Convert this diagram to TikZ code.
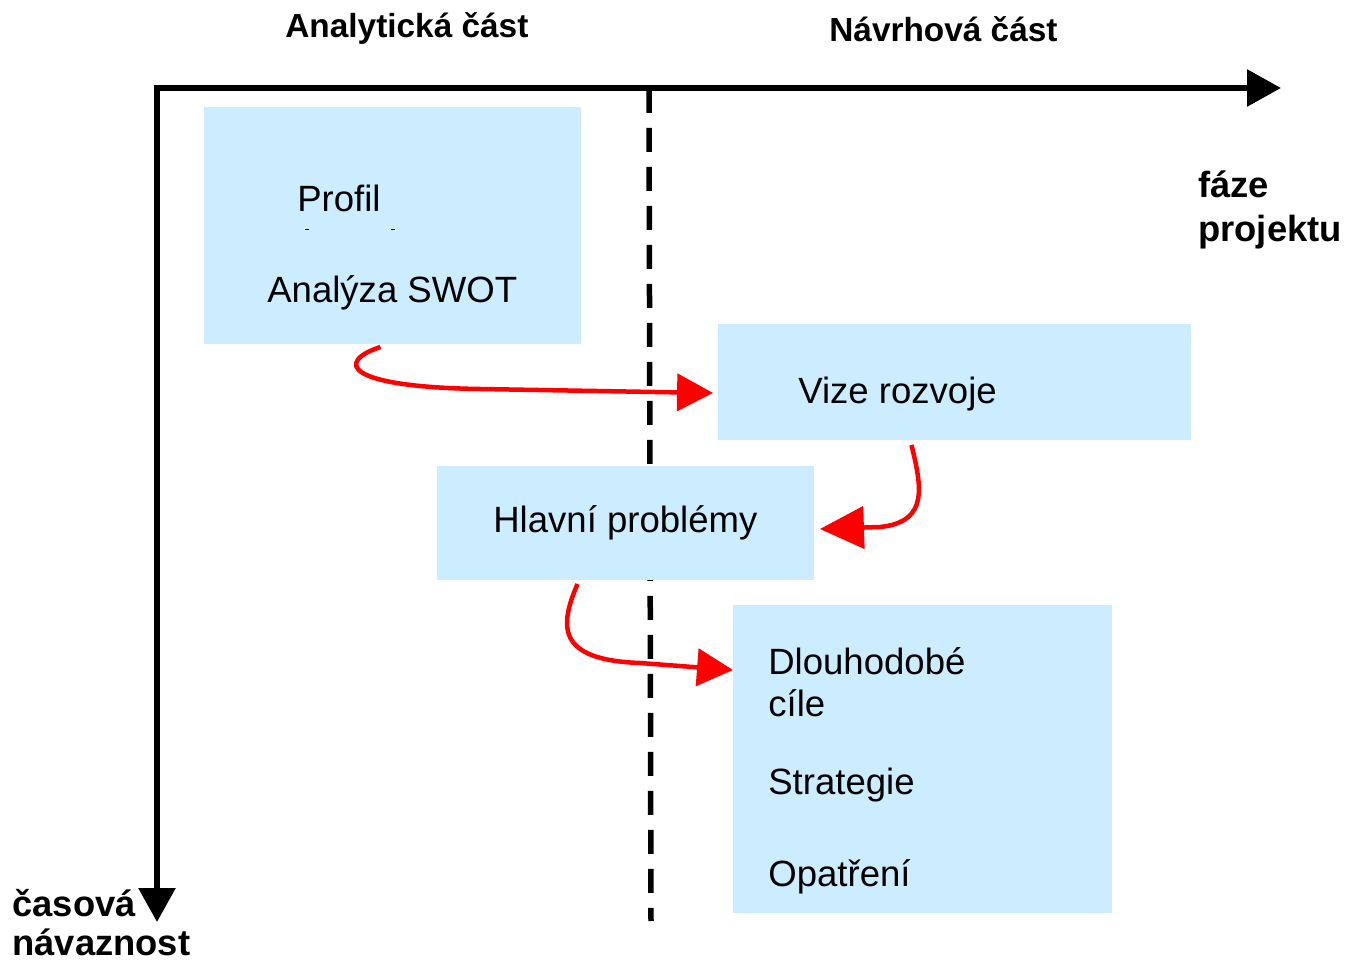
\documentclass[tikz,border=0pt]{standalone}
\usepackage{fontspec}
\setmainfont{Liberation Sans}
\usetikzlibrary{arrows.meta,calc}
\definecolor{boxblue}{RGB}{204,236,255}

\begin{document}
\begin{tikzpicture}[
x=0.02cm, y=-0.02cm,
    box/.style = {rectangle, fill=boxblue,% pale blue blocks
                inner sep=0pt, outer sep=0pt},
    txt/.style = {anchor=base west, inner sep=0pt,% text inside the blocks
                font=\fontsize{20.8}{25}\selectfont},
   head/.style = {anchor=base west, inner sep=0pt,
                font=\fontsize{19}{23}\selectfont\bfseries},
   side/.style = {anchor=base west, inner sep=0pt,
                font=\fontsize{20.7}{25}\selectfont\bfseries},
   axis/.style = {line width=0.12cm, >={Triangle[length=0.68cm,width=0.72cm]}, <->},
   link/.style = {red, line width=0.09cm, ->,
                >={Triangle[length=0.72cm,width=0.74cm]}},
divider/.style = {line width=0.11cm, dash pattern=on 0.48cm off 0.30cm},
                        ]
\useasboundingbox (0,0) rectangle (1347,962);
% axes
\coordinate (o) at (157,88);
\coordinate (xend) at (1281,88);
\coordinate (yend) at (157,922);
\coordinate (dtop) at (649,89);
\coordinate (dbot) at (651,921);
\draw[divider] (dtop) -- (dbot);
\draw[axis] (xend) -- (o) -- (yend);
% blocks
\node[box, minimum width=7.54cm, minimum height=4.74cm] (swot) at (392.5,225.5) {};
\node[box, minimum width=9.46cm, minimum height=2.32cm] (vize) at (954.5,382) {};
\node[box, minimum width=7.54cm, minimum height=2.28cm] (hlavni) at (625.5,523) {};
\node[box, minimum width=7.58cm, minimum height=6.16cm] (cile) at (922.5,759) {};
% labels
\node[head] (ana) at (285,38) {Analytická část};
\node[head] (nav) at (829,42) {Návrhová část};
\foreach \t/\y [count=\i] in {fáze/198, projektu/242}
    \node[side] (faze-\i) at (1198,\y) {\t};
\foreach \t/\y [count=\i] in {časová/917, návaznost/956}
    \node[side] (cas-\i) at (12,\y) {\t};
\node[txt] (profil) at (297,212) {Profil};
\draw[line width=0.4pt] (305,229) -- (309,229) (391,229) -- (395,229);
\node[txt] (swot-t) at (267,303) {Analýza SWOT};
\node[txt] (vize-t) at (798,404) {Vize rozvoje};
\node[txt] (hlavni-t) at (493,533) {Hlavní problémy};
\foreach \t/\y [count=\i] in {Dlouhodobé/675, cíle/717, Strategie/795, Opatření/887}
    \node[txt] (cile-\i) at (768,\y) {\t};
% red arrows
\draw[link] ($(swot.south)+(-12,3)$) .. controls (335,362) and (345,387) .. (480,389)
    -- ($(vize.west)+(-5,11)$);
\draw[link, >={Triangle[length=0.88cm,width=0.84cm]}] ($(vize.south)+(-43,5)$)
    .. controls (921,485) and (930,522) .. (880,527) -- ($(hlavni.east)+(6,6)$);
\draw[link] ($(hlavni.south)+(-48,4)$) .. controls (560,625) and (555,660) .. (640,663)
    -- ($(cile.north west)+(0,65)$);
\end{tikzpicture}
\end{document}
